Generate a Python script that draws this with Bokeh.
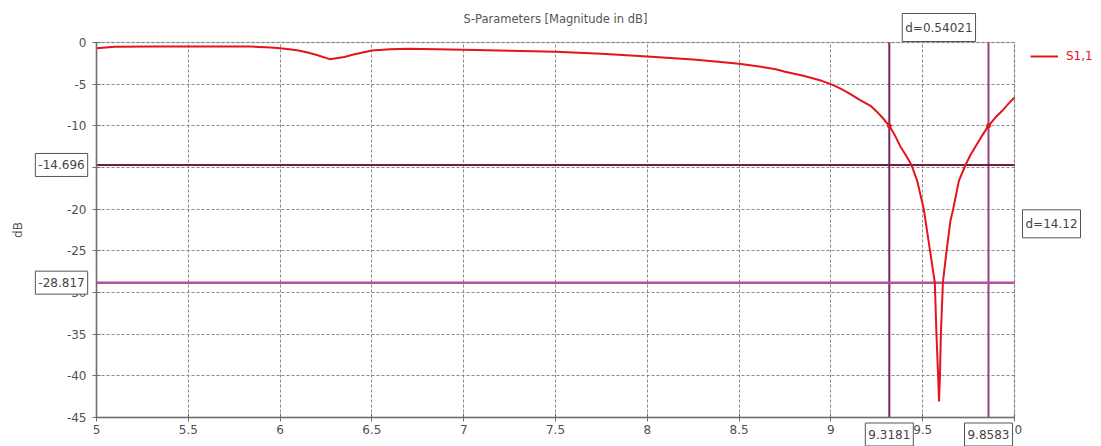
import math
from bokeh.plotting import figure
from bokeh.models import (Range1d, FixedTicker, Label, Legend, LegendItem, BoxAnnotation, Grid)
from bokeh.embed import file_html
from bokeh.resources import INLINE

# S1,1 magnitude (dB) versus frequency (GHz)
freq = [5.0, 5.1, 5.3, 5.5, 5.7, 5.84, 5.95, 6.0, 6.05, 6.1, 6.15, 6.2, 6.27,
        6.35, 6.4, 6.45, 6.5, 6.6, 6.7, 6.85, 7.0, 7.25, 7.5, 7.75, 8.0,
        8.25, 8.4, 8.5, 8.6, 8.7, 8.75, 8.85, 8.95, 9.0, 9.05, 9.1, 9.15,
        9.216, 9.25, 9.28, 9.3181, 9.35, 9.379, 9.41, 9.439, 9.47, 9.506,
        9.54, 9.566, 9.575, 9.584, 9.589, 9.594, 9.599, 9.61, 9.63, 9.651,
        9.666, 9.697, 9.733, 9.76, 9.787, 9.82, 9.8583, 9.9, 9.933, 9.965, 10.0]
s11_db = [-0.7, -0.5, -0.48, -0.48, -0.48, -0.48, -0.6, -0.7, -0.8, -0.95,
          -1.2, -1.5, -2.0, -1.75, -1.45, -1.2, -0.96, -0.82, -0.76, -0.8,
          -0.88, -1.0, -1.12, -1.36, -1.68, -2.05, -2.35, -2.56, -2.85, -3.2,
          -3.5, -4.0, -4.6, -5.0, -5.5, -6.1, -6.8, -7.6, -8.3, -9.0, -10.0,
          -11.2, -12.5, -13.6, -14.7, -16.6, -20.0, -25.0, -28.8, -35.0,
          -40.0, -43.0, -40.0, -35.0, -28.8, -25.0, -21.4, -20.0, -16.6,
          -14.7, -13.5, -12.5, -11.3, -10.0, -8.9, -8.2, -7.4, -6.6]

x_ticks = [5, 5.5, 6, 6.5, 7, 7.5, 8, 8.5, 9, 9.5, 10]
x_tick_labels = ["5", "5.5", "6", "6.5", "7", "7.5", "8", "8.5", "9", "9.5", "10"]
y_ticks = [0, -5, -10, -15, -20, -25, -30, -35, -40, -45]
y_tick_labels = ["0", "-5", "-10", "-15", "-20", "-25", "-30", "-35", "-40", "-45"]

# markers: -10 dB band edges and two level markers
f_low, f_high = 9.3181, 9.8583
bandwidth = 0.54021
marker_db = -10.0
level_low, level_high = -14.696, -28.817
level_diff = 14.12

X0, X1 = 5.0, 10.0
Y0, Y1 = -45.0, 0.0

# plot area inside the 1101 x 446 canvas (pixels of margin on each side)
W, H = 1101, 446
M_LEFT, M_RIGHT, M_TOP, M_BOTTOM = 96, 87, 42, 29
sx = (W - M_LEFT - M_RIGHT) / (X1 - X0)
sy = (H - M_TOP - M_BOTTOM) / (Y1 - Y0)

FONT = "DejaVu Sans"
CURVE = "#e4141c"
AXIS = "#6e6e6e"

# the frame fills the canvas; axes sit at fixed data positions
p = figure(width=W, height=H,
           x_range=Range1d(X0 - M_LEFT / sx, X1 + M_RIGHT / sx),
           y_range=Range1d(Y0 - M_BOTTOM / sy, Y1 + M_TOP / sy),
           output_backend="svg", toolbar_location=None, min_border=0)
p.background_fill_color = "white"
p.border_fill_color = "white"
p.outline_line_color = None

p.xaxis.fixed_location = Y0
p.yaxis.fixed_location = X0
p.xaxis.bounds = (X0, X1)
p.yaxis.bounds = (Y0, Y1)

for ax, ticks, labels in ((p.xaxis[0], x_ticks, x_tick_labels), (p.yaxis[0], y_ticks, y_tick_labels)):
    ax.ticker = FixedTicker(ticks=ticks)
    ax.major_label_overrides = {t: l for t, l in zip(ticks, labels)}
    ax.minor_tick_line_color = None
    ax.major_tick_in = 4
    ax.major_tick_out = 4
    ax.major_tick_line_color = AXIS
    ax.axis_line_color = AXIS
    ax.axis_line_width = 1.5
    ax.major_label_text_font = FONT
    ax.major_label_text_font_size = "12px"
    ax.major_label_text_color = "#505050"
p.xaxis.major_label_standoff = 3
p.yaxis.major_label_standoff = 6

p.grid.grid_line_color = "#8a8a8a"
p.grid.grid_line_dash = "3 2"
p.grid.grid_line_width = 1
if "cross_bounds" in Grid.properties():
    p.xgrid.cross_bounds = (Y0, Y1)
    p.ygrid.cross_bounds = (X0, X1)

# plot-area border
p.add_layout(BoxAnnotation(left=X0, right=X1, bottom=Y0, top=Y1, fill_alpha=0,
                           line_color=AXIS, line_width=1.5, level="underlay"))

# marker lines
p.segment(x0=[f_low], y0=[Y0], x1=[f_low], y1=[Y1], line_color="#76245c", line_width=2)
p.segment(x0=[f_high], y0=[Y0], x1=[f_high], y1=[Y1], line_color="#924488", line_width=2)
p.segment(x0=[X0], y0=[level_low], x1=[X1], y1=[level_low], line_color="#701c46", line_width=2)
p.segment(x0=[X0], y0=[level_high], x1=[X1], y1=[level_high], line_color="#b4509c", line_width=2.5)

r = p.line(freq, s11_db, line_color=CURVE, line_width=2, line_join="round")
p.scatter([f_low, f_high], [marker_db, marker_db], size=4, color=CURVE)

legend = Legend(items=[LegendItem(label="S1,1", renderers=[r])], location=(1030, 383),
                padding=0, margin=0, spacing=0, border_line_alpha=0, background_fill_alpha=0,
                glyph_width=28, glyph_height=14, label_standoff=8, label_height=14,
                label_text_font=FONT, label_text_font_size="12px", label_text_color=CURVE)
p.add_layout(legend)

# title and axis name
p.add_layout(Label(x=(X0 + X1) / 2, y=Y1 + 24 / sy, text="S-Parameters [Magnitude in dB]",
                   text_align="center", text_baseline="middle", text_font=FONT,
                   text_font_size="11.5px", text_color="#555555"))
p.add_layout(Label(x=X0 - 79 / sx, y=(Y0 + Y1) / 2, text="dB", angle=math.pi / 2,
                   text_align="center", text_baseline="middle", text_font=FONT,
                   text_font_size="12px", text_color="#555555"))

BOX = dict(text_align="center", text_baseline="middle", text_font=FONT,
           text_font_size="12px", text_color="#444444", background_fill_color="white",
           border_line_color="#555555", border_line_width=1, padding=(3, 7))

p.add_layout(Label(x=X0 - 35 / sx, y=level_low, text=f"{level_low:.3f}", **BOX))
p.add_layout(Label(x=X0 - 35 / sx, y=level_high, text=f"{level_high:.3f}", **BOX))
p.add_layout(Label(x=(f_low + f_high) / 2, y=Y1 + 15 / sy, text=f"d={bandwidth:.5f}", **BOX))
p.add_layout(Label(x=X1 + 37 / sx, y=(level_low + level_high) / 2,
                   text=f"d={level_diff:.2f}", **BOX))
p.add_layout(Label(x=f_low, y=Y0 - 17 / sy, text=f"{f_low:.4f}", **BOX))
p.add_layout(Label(x=f_high, y=Y0 - 17 / sy, text=f"{f_high:.4f}", **BOX))

open("out.html", "w").write(file_html(p, INLINE))
